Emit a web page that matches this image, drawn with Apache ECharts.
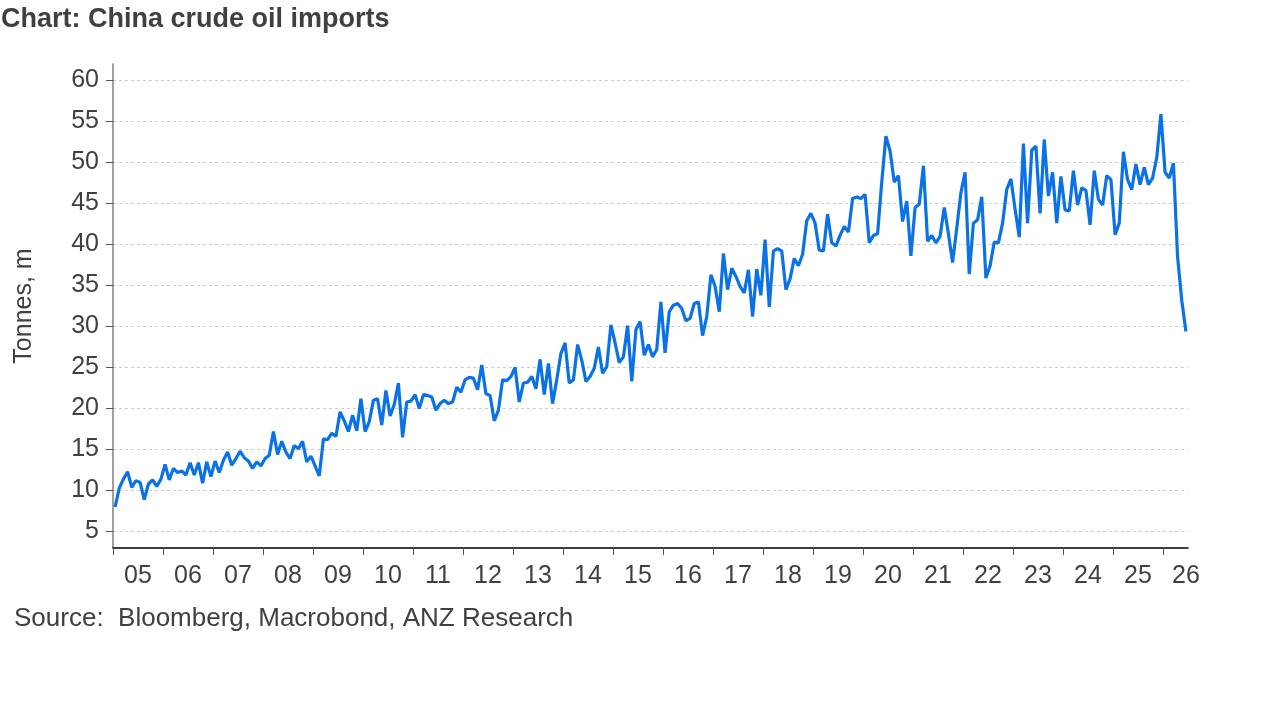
<!DOCTYPE html>
<html>
<head>
<meta charset="utf-8">
<title>China crude oil imports</title>
<script src="https://cdn.jsdelivr.net/npm/echarts@6/dist/echarts.min.js"></script>
<style>
  html, body { margin: 0; padding: 0; background: #fff; }
  #chart { width: 1280px; height: 720px; }
</style>
</head>
<body>
<div id="chart"></div>
<script>
// monthly crude oil imports, tonnes m, Jan 2005 onwards
var startYear = 2005;
var imports = [
    8.0, 10.3, 11.4, 12.3, 10.4, 11.2, 11.0, 8.9, 10.8, 11.3, 10.5, 11.4,   // 2005
    13.2, 11.3, 12.7, 12.2, 12.4, 11.9, 13.4, 11.9, 13.4, 10.9, 13.5, 11.7, // 2006
    13.6, 12.2, 13.7, 14.7, 13.1, 13.9, 14.8, 14.0, 13.6, 12.7, 13.5, 13.0, // 2007
    13.9, 14.3, 17.2, 14.4, 16.0, 14.7, 13.9, 15.5, 15.1, 16.0, 13.5, 14.2, // 2008
    13.0, 11.8, 16.3, 16.2, 17.0, 16.6, 19.6, 18.5, 17.2, 19.2, 17.3, 21.2, // 2009
    17.2, 18.4, 21.0, 21.2, 18.0, 22.2, 19.1, 20.5, 23.1, 16.5, 20.8, 20.9, // 2010
    21.7, 20.0, 21.7, 21.6, 21.4, 19.8, 20.6, 21.0, 20.6, 20.8, 22.6, 22.0, // 2011
    23.5, 23.8, 23.7, 22.3, 25.3, 21.8, 21.6, 18.5, 19.8, 23.5, 23.4, 23.9, // 2012
    25.0, 20.8, 23.1, 23.2, 23.9, 22.4, 26.0, 21.7, 25.5, 20.6, 23.5, 26.7, // 2013
    28.0, 23.1, 23.5, 27.8, 25.9, 23.3, 23.9, 24.9, 27.5, 24.3, 25.1, 30.2, // 2014
    28.0, 25.6, 26.3, 30.1, 23.3, 29.6, 30.6, 26.5, 27.8, 26.3, 27.2, 33.0, // 2015
    26.8, 31.8, 32.6, 32.8, 32.2, 30.7, 31.0, 32.8, 33.0, 28.9, 31.2, 36.3, // 2016
    34.9, 31.8, 38.9, 34.5, 37.1, 36.1, 34.9, 34.1, 36.9, 31.2, 37.0, 33.8, // 2017
    40.6, 32.4, 39.2, 39.5, 39.2, 34.5, 35.8, 38.3, 37.4, 38.8, 42.9, 43.8, // 2018
    42.6, 39.3, 39.2, 43.7, 40.2, 39.8, 41.1, 42.2, 41.5, 45.6, 45.8, 45.6, // 2019
    46.1, 40.2, 41.1, 41.3, 47.6, 53.2, 51.4, 47.6, 48.4, 42.8, 45.3, 38.6, // 2020
    44.5, 44.9, 49.6, 40.4, 41.1, 40.2, 41.0, 44.5, 41.3, 37.8, 42.0, 46.3, // 2021
    48.8, 36.4, 42.6, 43.0, 45.8, 35.9, 37.4, 40.3, 40.2, 42.6, 46.7, 48.0, // 2022
    44.3, 40.9, 52.3, 42.6, 51.5, 52.0, 43.8, 52.8, 45.9, 48.8, 42.6, 48.3, // 2023
    44.2, 44.1, 49.0, 44.8, 46.9, 46.6, 42.4, 49.0, 45.5, 44.8, 48.4, 47.9, // 2024
    41.2, 42.6, 51.3, 47.9, 46.7, 49.8, 47.3, 49.4, 47.3, 48.1, 50.6, 55.9, // 2025
    48.8, 48.1, 49.9, 38.5, 33.2, 29.4                                      // 2026
];
var yTicks = [5, 10, 15, 20, 25, 30, 35, 40, 45, 50, 55, 60];

var nMonths = imports.length;
var fontFam = "'Liberation Sans', Arial, sans-serif";
var textCol = '#404040';

// year ticks at each January, year label in the middle of the year
var yearTicks = [];
var yearLabels = [];
for (var m = 0; m < nMonths; m += 12) {
    yearTicks.push(m);
    yearLabels.push(m + 6 < nMonths ? m + 6 : nMonths - 0.5);
}

// each month sits in the middle of its slot
var seriesData = imports.map(function (v, i) {
    return [i + 0.5, v];
});

var chart = echarts.init(document.getElementById('chart'));

var option = {
    animation: false,
    backgroundColor: '#fff',
    title: [{
        text: 'Chart: China crude oil imports',
        left: 1,
        top: 6,
        padding: 0,
        textStyle: { fontFamily: fontFam, fontSize: 27, fontWeight: 'bold', color: textCol }
    }, {
        text: 'Source:  Bloomberg, Macrobond, ANZ Research',
        left: 14,
        top: 606,
        padding: 0,
        textStyle: { fontFamily: fontFam, fontSize: 26, fontWeight: 'normal', color: textCol }
    }],
    grid: { left: 113, right: 92, top: 64, bottom: 172 },
    xAxis: {
        type: 'value',
        min: 0,
        max: nMonths,
        axisLine: { lineStyle: { color: '#000', width: 1.5 } },
        axisTick: { length: 7, customValues: yearTicks, lineStyle: { color: '#555' } },
        axisLabel: {
            customValues: yearLabels,
            margin: 16,
            fontFamily: fontFam,
            fontSize: 25,
            color: textCol,
            formatter: function (v) {
                var yr = startYear + Math.floor(v / 12);
                return String(yr % 100).padStart(2, '0');
            }
        },
        splitLine: { show: false }
    },
    yAxis: {
        type: 'value',
        min: 3,
        max: 62,
        name: 'Tonnes, m',
        nameLocation: 'middle',
        nameGap: 76,
        nameRotate: 90,
        nameTextStyle: { fontFamily: fontFam, fontSize: 25, color: textCol },
        axisLine: { show: true, lineStyle: { color: '#808080', width: 1.5 } },
        axisTick: { show: true, length: 7, customValues: yTicks, lineStyle: { color: '#555' } },
        axisLabel: { customValues: yTicks, margin: 14, fontFamily: fontFam, fontSize: 25, color: textCol },
        splitLine: { show: true, lineStyle: { color: '#c5d0d5', type: [3, 3], width: 1 } }
    },
    series: [{
        name: 'Crude oil imports',
        type: 'line',
        data: seriesData,
        showSymbol: false,
        symbol: 'none',
        lineStyle: { color: '#0a72e6', width: 3.2 },
        itemStyle: { color: '#0a72e6' }
    }]
};

chart.setOption(option);
</script>
</body>
</html>
